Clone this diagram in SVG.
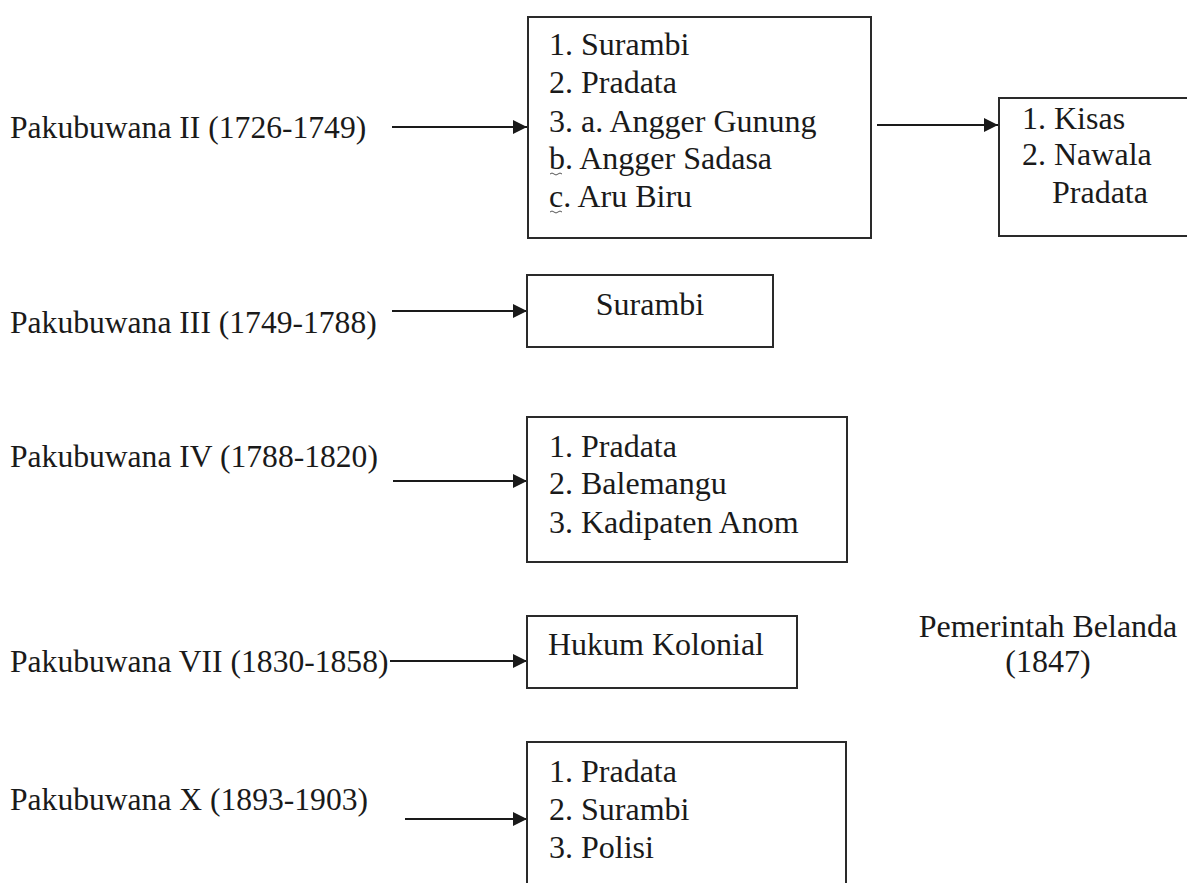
<svg xmlns="http://www.w3.org/2000/svg" width="1187" height="883" viewBox="0 0 1187 883">
<defs>
<style>
text{font-family:"Liberation Serif","Times New Roman",serif;font-size:32px;fill:#1a1a1a}
.lbl{font-size:31.6px}
.box{fill:#fff;stroke:#2a2a2a;stroke-width:2}
.conn{stroke:#1a1a1a;stroke-width:2;fill:none;marker-end:url(#ah)}
.wavy{stroke:#555;stroke-width:1;fill:none}
</style>
<marker id="ah" viewBox="0 0 10 10" refX="10" refY="5" markerWidth="8" markerHeight="7" markerUnits="strokeWidth" orient="auto">
<path d="M0,0 L10,5 L0,10 z" fill="#1a1a1a"/>
</marker>
</defs>
<rect width="1187" height="883" fill="#fff"/>

<g id="labels">
<text class="lbl" font-family="Liberation Serif" x="10" y="138">Pakubuwana II (1726-1749)</text>
<text class="lbl" font-family="Liberation Serif" x="10" y="333">Pakubuwana III (1749-1788)</text>
<text class="lbl" font-family="Liberation Serif" x="10" y="467">Pakubuwana IV (1788-1820)</text>
<text class="lbl" font-family="Liberation Serif" x="10" y="672">Pakubuwana VII (1830-1858)</text>
<text class="lbl" font-family="Liberation Serif" x="10" y="810">Pakubuwana X (1893-1903)</text>
</g>

<g id="connectors">
<line class="conn" x1="392" y1="127" x2="527" y2="127"/>
<line class="conn" x1="877" y1="125" x2="998" y2="125"/>
<line class="conn" x1="392" y1="311" x2="527" y2="311"/>
<line class="conn" x1="393" y1="481" x2="527" y2="481"/>
<line class="conn" x1="390" y1="661" x2="527" y2="661"/>
<line class="conn" x1="405" y1="819" x2="527" y2="819"/>
</g>

<g id="node-pb2">
<rect class="box" x="528" y="17" width="343" height="221"/>
<text font-family="Liberation Serif" x="549" y="55">1. Surambi</text>
<text font-family="Liberation Serif" x="549" y="93">2. Pradata</text>
<text font-family="Liberation Serif" x="549" y="132">3. a. Angger Gunung</text>
<text font-family="Liberation Serif" x="549" y="169">b. Angger Sadasa</text>
<text font-family="Liberation Serif" x="549" y="207">c. Aru Biru</text>
<path class="wavy" d="M550,174 q2,-2 4,0 t4,0 t4,0"/>
<path class="wavy" d="M550,212 q2,-2 4,0 t4,0 t4,0"/>
</g>

<g id="node-kisas">
<rect class="box" x="999" y="98" width="210" height="138"/>
<text font-family="Liberation Serif" x="1022" y="129">1. Kisas</text>
<text font-family="Liberation Serif" x="1022" y="165">2. Nawala</text>
<text font-family="Liberation Serif" x="1052" y="203">Pradata</text>
</g>

<g id="node-pb3">
<rect class="box" x="527" y="275" width="246" height="72"/>
<text font-family="Liberation Serif" x="650" y="315" text-anchor="middle">Surambi</text>
</g>

<g id="node-pb4">
<rect class="box" x="527" y="417" width="320" height="145"/>
<text font-family="Liberation Serif" x="549" y="457">1. Pradata</text>
<text font-family="Liberation Serif" x="549" y="494">2. Balemangu</text>
<text font-family="Liberation Serif" x="549" y="533">3. Kadipaten Anom</text>
</g>

<g id="node-pb7">
<rect class="box" x="527" y="616" width="270" height="72"/>
<text font-family="Liberation Serif" x="548" y="655">Hukum Kolonial</text>
</g>

<g id="node-belanda">
<text font-family="Liberation Serif" x="1048" y="637" text-anchor="middle">Pemerintah Belanda</text>
<text font-family="Liberation Serif" x="1048" y="672" text-anchor="middle">(1847)</text>
</g>

<g id="node-pb10">
<rect class="box" x="527" y="742" width="319" height="160"/>
<text font-family="Liberation Serif" x="549" y="782">1. Pradata</text>
<text font-family="Liberation Serif" x="549" y="820">2. Surambi</text>
<text font-family="Liberation Serif" x="549" y="858">3. Polisi</text>
</g>
</svg>
